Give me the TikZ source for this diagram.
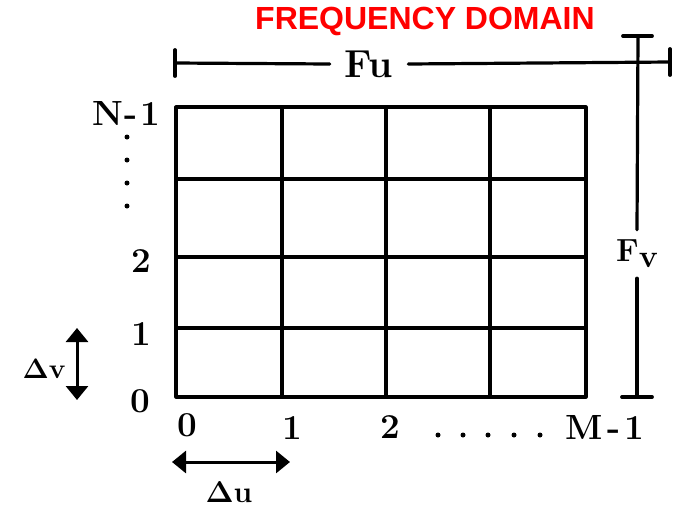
\documentclass[tikz,border=0pt]{standalone}
\usepackage{fontspec}
\usepackage{xcolor}
\usetikzlibrary{arrows.meta,positioning}
\newfontfamily\titlefont{Liberation Sans}
\tikzset{
  gridln/.style={line width=3.2pt},
  dimln/.style={line width=3.2pt},
  tickln/.style={line width=3.8pt},
  axlbl/.style={inner sep=0pt, font=\fontsize{35}{38}\selectfont\bfseries},
  dlbl/.style={inner sep=0pt, font=\fontsize{30}{32}\selectfont\bfseries},
  deltaarr/.style={line width=3pt, {Triangle[length=14pt,width=22pt]}-{Triangle[length=14pt,width=22pt]}},
  every picture/.style={line cap=round, line join=round}
}

\begin{document}
\begin{tikzpicture}[x=1pt,y=-1pt]
  \useasboundingbox (0,0) rectangle (677,507);

  % title
  \node[inner sep=0pt, text=red, font=\fontsize{32}{35}\selectfont\titlefont\bfseries] (title) at (425,21) {FREQUENCY DOMAIN};

  % grid
  \coordinate (sw) at (176,397);
  \coordinate (ne) at (586,107);
  \foreach \x in {282,386,490} \draw[gridln] (\x,107) -- (\x,397);
  \foreach \y in {179,257,328} \draw[gridln] (176,\y) -- (586,\y);
  \draw[gridln, line cap=butt] (sw) rectangle (ne);

  % Fu dimension
  \coordinate (fuL) at (175,63);
  \coordinate (fuR) at (670,62);
  \node[axlbl, font=\fontsize{39}{42}\selectfont\bfseries, inner xsep=15pt] (fu) at (369,64) {Fu};
  \draw[dimln] (fuL) -- (fu.west);
  \draw[dimln] (fu.east) -- (fuR);
  \draw[tickln] ([yshift=-13pt]fuL) -- ([yshift=13pt]fuL);
  \draw[tickln] ([yshift=-13pt]fuR) -- ([yshift=13pt]fuR);

  % Fv dimension
  \coordinate (fvT) at (638,36);
  \coordinate (fvB) at (637,397);
  \node[axlbl, font=\fontsize{32}{35}\selectfont\bfseries, inner ysep=10pt] (fv) at (637,254) {F\raisebox{-6pt}{v}};
  \draw[dimln] (fvT) -- (fv.north);
  \draw[dimln] (fv.south) -- (fvB);
  \draw[tickln] ([xshift=-15pt]fvT) -- ([xshift=14pt]fvT);
  \draw[tickln] ([xshift=-15pt]fvB) -- ([xshift=15pt]fvB);

  % v axis labels
  \node[axlbl] (nlab) at (126,113) {N\kern2pt-\kern2pt1};
  \foreach \y in {137,160,183,206} \fill (127,\y) circle (2.5pt);
  \node[axlbl] (lab2v) at (141,261) {2};
  \node[axlbl] (lab1v) at (141,334) {1};
  \node[axlbl] (lab0v) at (140,401) {0};

  % u axis labels
  \node[axlbl] (lab0u) at (187,425) {0};
  \node[axlbl] (lab1u) at (292,428) {1};
  \node[axlbl] (lab2u) at (390,427) {2};
  \foreach \x in {438,463,488,514,540} \fill (\x,435) circle (2.5pt);
  \node[axlbl] (mlab) at (605,427) {M\kern4pt-\kern4pt1};

  % sample spacing
  \coordinate (dvT) at (77,328);
  \coordinate (dvB) at (77,400);
  \draw[deltaarr] (dvT) -- (dvB);
  \node[dlbl, font=\fontsize{28}{30}\selectfont\bfseries] (dv) at (44,369) {Δv};
  \coordinate (duL) at (172,462);
  \coordinate (duR) at (290,462);
  \draw[deltaarr] (duL) -- (duR);
  \node[dlbl] (du) at (229,492) {Δu};
\end{tikzpicture}
\end{document}
